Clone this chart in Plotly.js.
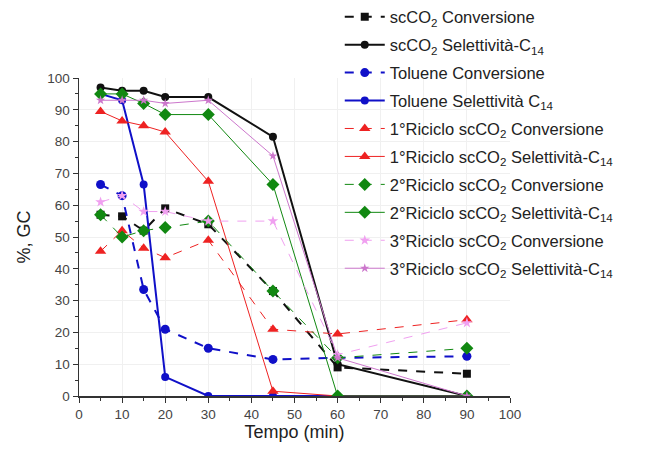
<!DOCTYPE html>
<html><head><meta charset="utf-8">
<script src="https://cdn.plot.ly/plotly-3.0.1.min.js"></script>
<style>body{margin:0;background:#fff}#c{width:646px;height:452px}</style>
</head><body><div id="c"></div>
<script>
const tempo = [5, 10, 15, 20, 30, 45, 60, 90];
const scco2Conv = [57, 56.5, 52, 59, 54, 33, 9, 7];
const scco2Sel = [97, 96, 96, 94, 94, 81.5, 10, 0];
const tolConv = [66.5, 63, 33.5, 21, 15, 11.5, 12, 12.5];
const tolSel = [95, 93, 66.5, 6, 0, 0, 0, 0];
const r1Conv = [45.5, 52, 46.5, 43.5, 49, 21, 19.5, 24];
const r1Sel = [89.5, 86.5, 85, 83, 67.5, 1.5, 0, 0];
const r2Conv = [57, 50, 52, 53, 55, 33, 12, 15];
const r2Sel = [95, 95, 92, 88.5, 88.5, 66.5, 0, 0];
const r3Conv = [61, 63, 58, 58, 55, 55, 13, 23];
const r3Sel = [93, 93, 93, 92, 93, 75.5, 12, 0];
const names = [
 'scCO<sub>2</sub> Conversione',
 'scCO<sub>2</sub> Selettività-C<sub>14</sub>',
 'Toluene Conversione',
 'Toluene Selettività C<sub>14</sub>',
 '1°Riciclo scCO<sub>2</sub> Conversione',
 '1°Riciclo scCO<sub>2</sub> Selettività-C<sub>14</sub>',
 '2°Riciclo scCO<sub>2</sub> Conversione',
 '2°Riciclo scCO<sub>2</sub> Selettività-C<sub>14</sub>',
 '3°Riciclo scCO<sub>2</sub> Conversione',
 '3°Riciclo scCO<sub>2</sub> Selettività-C<sub>14</sub>'
];
const series = [scco2Conv, scco2Sel, tolConv, tolSel, r1Conv, r1Sel, r2Conv, r2Sel, r3Conv, r3Sel];
const styles = [
 {c:'#111111', d:'dash', w:2, s:'square', ms:8},
 {c:'#111111', d:'solid', w:2, s:'circle', ms:8},
 {c:'#1010c8', d:'dash', w:2, s:'circle', ms:9},
 {c:'#1010c8', d:'solid', w:2, s:'circle', ms:8},
 {c:'#ee2222', d:'dash', w:1, s:'triangle-up', ms:10},
 {c:'#ee2222', d:'solid', w:1, s:'triangle-up', ms:10},
 {c:'#118811', d:'dash', w:1, s:'diamond', ms:10},
 {c:'#118811', d:'solid', w:1, s:'diamond', ms:10},
 {c:'#f0a0f0', d:'dash', w:1, s:'star', ms:8},
 {c:'#cc77cc', d:'solid', w:1, s:'star', ms:7}
];
const data = series.map((y, i) => ({
 x: tempo, y: y, name: names[i], type: 'scatter', mode: 'lines+markers',
 legendgroup: 'g' + i,
 line: {color: styles[i].c, dash: styles[i].d, width: styles[i].w},
 marker: {color: styles[i].c, symbol: styles[i].s, size: styles[i].ms}
}));
const layout = {
 width: 646, height: 452,
 margin: {l: 79, r: 136, t: 78, b: 56, autoexpand: false},
 paper_bgcolor: '#fff', plot_bgcolor: '#fff',
 font: {family: 'Liberation Sans, Arial, sans-serif', color: '#333', size: 13},
 showlegend: true,
 legend: {x: 0.605, y: 1.247, xanchor: 'left', yanchor: 'top', bgcolor: 'rgba(255,255,255,0)',
   font: {size: 16.5, color: '#222'}, tracegroupgap: 3.5, itemwidth: 40, maxheight: 440},
 xaxis: {range: [0, 100], dtick: 10, showline: true, linecolor: '#333', linewidth: 1.5,
   ticks: 'outside', ticklen: 5, tickcolor: '#333', zeroline: false,
   showgrid: true, gridcolor: '#f0f0f0',
   tickfont: {size: 13.5, color: '#444'},
   minor: {ticks: 'outside', dtick: 5, ticklen: 3, tickcolor: '#333'},
   title: {text: 'Tempo (min)', font: {size: 18, color: '#222'}, standoff: 4}},
 yaxis: {range: [0, 100], dtick: 10, showline: true, linecolor: '#333', linewidth: 1.5,
   ticks: 'outside', ticklen: 5, tickcolor: '#333', zeroline: false,
   showgrid: true, gridcolor: '#f0f0f0',
   tickfont: {size: 13.5, color: '#444'},
   minor: {ticks: 'outside', dtick: 5, ticklen: 3, tickcolor: '#333'},
   title: {text: '%, GC', font: {size: 18, color: '#222'}, standoff: 12}}
};
Plotly.newPlot('c', data, layout, {displayModeBar: false, staticPlot: true});
</script></body></html>
